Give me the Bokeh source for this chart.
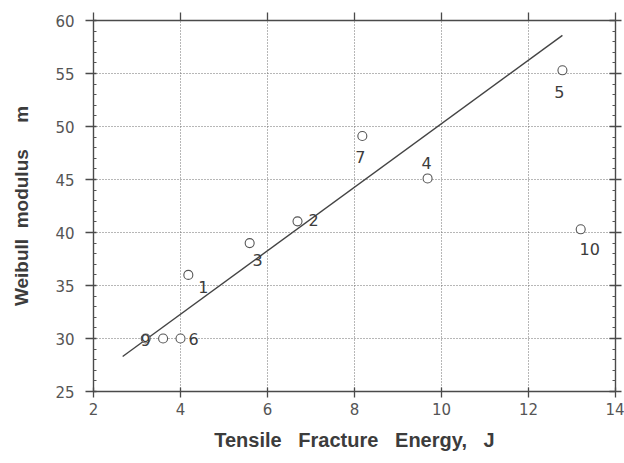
from bokeh.plotting import figure
from bokeh.models import ColumnDataSource, LinearAxis, FixedTicker, Range1d
from bokeh.core.properties import value
from bokeh.embed import file_html
from bokeh.resources import INLINE

# Specimen data: tensile fracture energy (J) vs Weibull modulus m
specimen = ["1", "2", "3", "4", "5", "6", "7", "", "9", "10"]
energy = [4.18, 6.69, 5.59, 9.68, 12.78, 4.0, 8.18, 3.6, 3.2, 13.2]
modulus = [36.0, 41.05, 39.0, 45.1, 55.3, 30.0, 49.1, 30.0, 30.0, 40.3]

# Fitted trend line end points
fit_x = [2.67, 12.78]
fit_y = [28.3, 58.6]

x_ticks = [2, 4, 6, 8, 10, 12, 14]
y_ticks = [25, 30, 35, 40, 45, 50, 55, 60]

# label placement around each marker (screen px, positive dy = downwards)
label_dx = [15, 16, 8, -1, -3, 13, -2, 0, 0, 9]
label_dy = [12, -1, 17, -15, 22, 0, 21, 0, 1, 20]

INK = "#3c3c3c"
GRID = "#6e6e6e"
TITLE_FONT = "Liberation Sans"
TICK_FONT = "DejaVu Sans"
NB = "\u00a0"

p = figure(width=624, height=463, output_backend="svg", toolbar_location=None,
           x_range=Range1d(2, 14), y_range=Range1d(25, 60),
           min_border_left=93, min_border_right=9, min_border_top=20,
           min_border_bottom=72, x_axis_location=None, y_axis_location=None)
p.outline_line_color = None
p.background_fill_color = "white"
p.border_fill_color = "white"


def style_axis(ax, ticks, minor, t_in, t_out, labels=True):
    ax.ticker = FixedTicker(ticks=ticks, minor_ticks=minor)
    ax.axis_line_color = "#4a4a4a"
    ax.axis_line_width = 1.4
    ax.major_tick_line_color = "#4a4a4a"
    ax.major_tick_line_width = 1.3
    ax.major_tick_in = t_in
    ax.major_tick_out = t_out
    ax.minor_tick_line_color = "#555555"
    ax.minor_tick_in = 3
    ax.minor_tick_out = 0
    if labels:
        ax.major_label_text_font = TICK_FONT
        ax.major_label_text_font_size = "15px"
        ax.major_label_text_color = "#555555"
    else:
        ax.major_label_overrides = {t: "" for t in ticks}
        ax.major_label_standoff = 0


y_minor = [v for v in range(25, 61) if v % 5]

bottom = LinearAxis(axis_label=(NB * 3).join(["Tensile", "Fracture", "Energy,", "J"]))
style_axis(bottom, x_ticks, [], 4, 6)
bottom.major_label_standoff = 5
bottom.axis_label_standoff = 11
bottom.axis_label_text_font_size = "20px"
p.add_layout(bottom, "below")

left = LinearAxis(axis_label="Weibull" + NB * 2 + "modulus" + NB * 5 + "m")
style_axis(left, y_ticks, y_minor, 3, 8)
left.major_label_standoff = 11
left.axis_label_standoff = 20
left.axis_label_text_font_size = "19px"
p.add_layout(left, "left")

top = LinearAxis()
style_axis(top, x_ticks, [], 0, 8, labels=False)
p.add_layout(top, "above")

right = LinearAxis()
style_axis(right, y_ticks, y_minor, 6, 6, labels=False)
p.add_layout(right, "right")

for ax in (bottom, left):
    ax.axis_label_text_font = TITLE_FONT
    ax.axis_label_text_font_style = "bold"
    ax.axis_label_text_color = INK

p.xgrid.ticker = FixedTicker(ticks=x_ticks)
p.ygrid.ticker = FixedTicker(ticks=y_ticks)
for g in (p.xgrid, p.ygrid):
    g.grid_line_color = GRID
    g.grid_line_dash = "1 2"
    g.grid_line_width = 1

src = ColumnDataSource(dict(x=energy, y=modulus, name=specimen,
                            dx=label_dx, dy=label_dy))

p.line(fit_x, fit_y, line_color="#444444", line_width=1.4)
p.scatter("x", "y", source=src, marker="circle", size=9,
          fill_color="white", line_color="#555555", line_width=1.1)
p.text("x", "y", text="name", source=src, x_offset="dx", y_offset="dy",
       text_align="center", text_baseline="middle", text_font=value(TICK_FONT),
       text_font_size="16px", text_color=INK)

out = file_html(p, INLINE)
open("out.html", "w").write(out)
